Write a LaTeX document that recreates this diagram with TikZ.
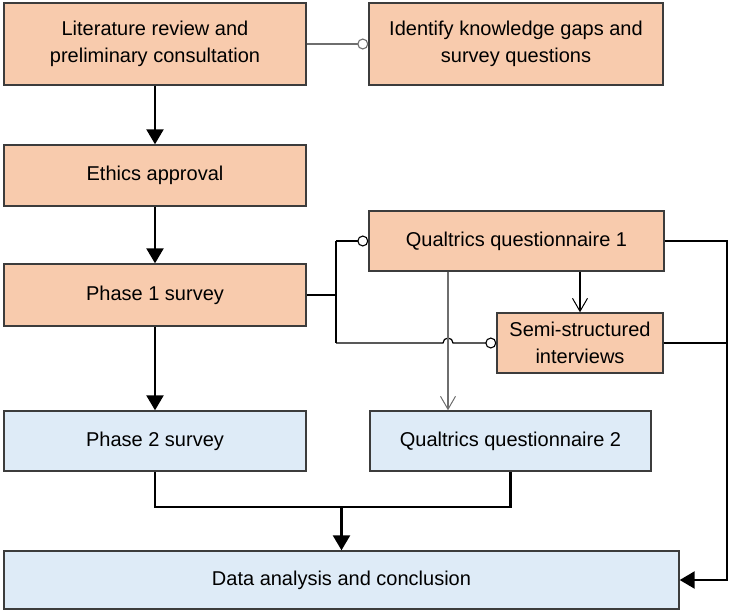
\documentclass[tikz,border=0pt]{standalone}
\usepackage{fontspec}
\setmainfont{Liberation Sans}
\usetikzlibrary{arrows.meta}
\definecolor{orfill}{HTML}{F8CBAD}
\definecolor{blfill}{HTML}{DEEBF7}
\definecolor{bord}{HTML}{3C3C3C}
\definecolor{thingray}{HTML}{6E6E6E}
\begin{document}
\begin{tikzpicture}[x=1pt,y=-1pt,
  box/.style={draw=bord, line width=1.4pt, align=center, inner sep=0pt,
    font=\fontsize{20}{27}\selectfont, text=black},
  obox/.style={box, fill=orfill},
  bbox/.style={box, fill=blfill},
  mainarrow/.style={line width=2.4pt, black, -{Triangle[length=15pt,width=17pt]}},
  thickline/.style={line width=2.4pt, black},
  circend/.style={-{Circle[length=11pt,fill=white,line width=1.1pt]}},
  barbend/.style={-{Straight Barb[length=13pt,width=15pt,line width=1pt]}}
]
\useasboundingbox (0,0) rectangle (729,611);
% boxes
\node[obox, minimum width=302pt, minimum height=82pt] (lit) at (155,44) {Literature review and\\preliminary consultation};
\node[obox, minimum width=294pt, minimum height=82pt] (ident) at (516,44) {Identify knowledge gaps and\\survey questions};
\node[obox, minimum width=302pt, minimum height=61pt] (eth) at (155,175.5) {Ethics approval};
\node[obox, minimum width=302pt, minimum height=62pt] (p1) at (155,295) {Phase 1 survey};
\node[obox, minimum width=295pt, minimum height=60pt] (q1) at (516.5,241) {Qualtrics questionnaire 1};
\node[obox, minimum width=166pt, minimum height=60pt] (semi) at (580,343) {Semi-structured\\interviews};
\node[bbox, minimum width=302pt, minimum height=60pt] (p2) at (155,441) {Phase 2 survey};
\node[bbox, minimum width=281pt, minimum height=60pt] (q2) at (510.5,441) {Qualtrics questionnaire 2};
\node[bbox, minimum width=675pt, minimum height=58pt] (data) at (341.5,580) {Data analysis and conclusion};
% helper coordinates
\coordinate (jn) at (336,0);
\coordinate (qx) at (448,0);
\coordinate (rb) at (727,0);
\coordinate (bb) at (0,507);
% thin connectors with circle ends
\draw[thingray, line width=1.2pt, circend] (lit.east) -- (ident.west);
\draw[black, line width=1.2pt] (p1.east) -- (p1.east -| jn);
\draw[black, line width=1.2pt, circend] (jn |- q1.west) -- (q1.west);
\draw[black, line width=1.2pt] (jn |- q1.west) -- (jn |- semi.west);
\draw[black, line width=1.2pt, circend] (jn |- semi.west) -- ([xshift=-5pt]qx |- semi.west)
   arc[start angle=180, end angle=0, radius=5pt] -- (semi.west);
% thin arrows
\draw[black, line width=1.2pt, barbend] (semi.north |- q1.south) -- (semi.north);
\draw[thingray, line width=1.2pt, barbend] (qx |- q1.south) -- (qx |- q2.north);
% main arrows
\draw[mainarrow] (lit.south) -- (eth.north);
\draw[mainarrow] (eth.south) -- (p1.north);
\draw[mainarrow] (p1.south) -- (p2.north);
% bottom collector
\draw[thickline] (p2.south) -- (p2.south |- bb) -- (q2.south |- bb) -- (q2.south);
\draw[mainarrow] (data.north |- bb) -- (data.north);
% right bus
\draw[thickline] (semi.east) -- (semi.east -| rb);
\draw[mainarrow] (q1.east) -- (q1.east -| rb) -- (rb |- data.east) -- (data.east);
\end{tikzpicture}
\end{document}
